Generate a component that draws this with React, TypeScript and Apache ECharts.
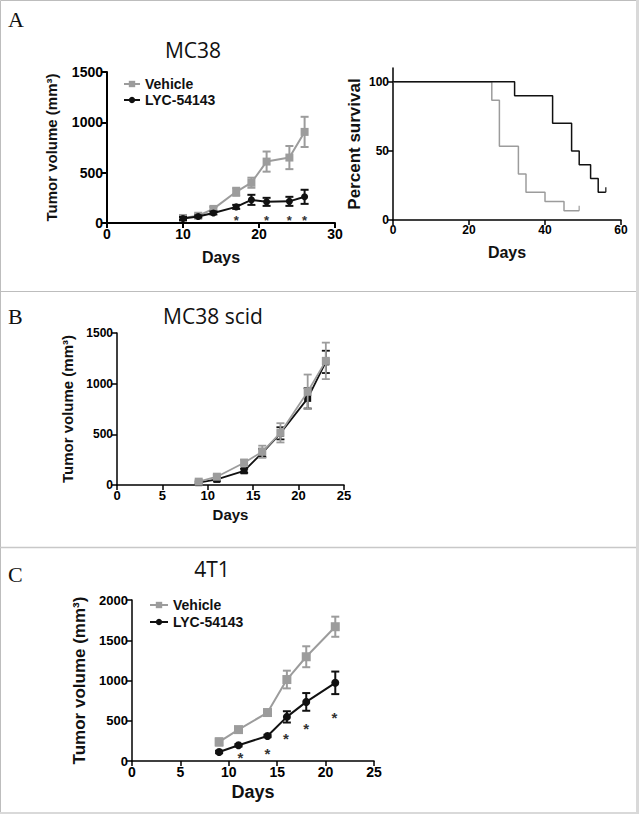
import React, { useEffect, useRef } from 'react';
import * as echarts from 'echarts';

// ---- Panel A (MC38 tumor growth) ----
const mc38Days = [10, 12, 14, 17, 19, 21, 24, 26];
const mc38Vehicle = [50, 72, 140, 310, 400, 610, 650, 905];
const mc38VehicleErr = [15, 15, 20, 40, 50, 100, 115, 150];
const mc38Lyc = [45, 65, 100, 160, 230, 210, 215, 260];
const mc38LycErr = [15, 10, 15, 20, 50, 40, 45, 70];
const mc38StarDays = [17, 21, 24, 26];
const mc38StarLevel = [55, 55, 55, 55];

// ---- Panel A (survival) ----
const survVehicleDays = [0, 26, 28, 33, 35, 40, 45, 49];
const survVehicle = [100, 86.7, 53.3, 33.3, 20, 13.3, 6.7, 6.7];
const survLycDays = [0, 32, 42, 47, 49, 52, 54, 56];
const survLyc = [100, 90, 70, 50, 40, 30, 20, 20];

// ---- Panel B (MC38 scid) ----
const scidDays = [9, 11, 14, 16, 18, 21, 23];
const scidVehicle = [33, 82, 220, 328, 515, 920, 1225];
const scidVehicleErr = [15, 20, 30, 60, 95, 170, 180];
const scidLyc = [23, 55, 140, 318, 510, 855, 1215];
const scidLycErr = [10, 15, 20, 40, 60, 100, 110];

// ---- Panel C (4T1) ----
const t1Days = [9, 11, 14, 16, 18, 21];
const t1Vehicle = [237, 390, 602, 1012, 1295, 1668];
const t1VehicleErr = [45, 20, 30, 110, 130, 125];
const t1Lyc = [112, 195, 311, 548, 734, 971];
const t1LycErr = [15, 15, 15, 70, 110, 140];
const t1StarDays = [11.2, 14, 15.9, 18, 20.9];
const t1StarLevel = [79, 133, 320, 444, 580];

const GRAY = '#9c9c9c';
const BLACK = '#111111';
const SANS = '"Liberation Sans", Arial, sans-serif';
const TITLE_FONT = '"Open Sans", "Noto Sans", sans-serif';

const zip = (xs: number[], ys: number[]) => xs.map((x, i) => [x, ys[i]]);
const zip3 = (xs: number[], ys: number[], es: number[]) => xs.map((x, i) => [x, ys[i], es[i]]);
const plain = (v: number) => String(v);

function errSeries(gridIdx: number, xs: number[], ys: number[], es: number[], color: string, cap: number, lw: number, z = 3) {
  return {
    type: 'custom',
    xAxisIndex: gridIdx,
    yAxisIndex: gridIdx,
    z,
    silent: true,
    data: zip3(xs, ys, es),
    renderItem: (_p: any, api: any) => {
      const x = api.value(0);
      const y = api.value(1);
      const e = api.value(2);
      const t = api.coord([x, y + e]);
      const b = api.coord([x, Math.max(0, y - e)]);
      const st = { stroke: color, lineWidth: lw };
      return {
        type: 'group',
        children: [
          { type: 'line', shape: { x1: t[0], y1: t[1], x2: b[0], y2: b[1] }, style: st },
          { type: 'line', shape: { x1: t[0] - cap, y1: t[1], x2: t[0] + cap, y2: t[1] }, style: st },
          { type: 'line', shape: { x1: b[0] - cap, y1: b[1], x2: b[0] + cap, y2: b[1] }, style: st },
        ],
      };
    },
  };
}

function starSeries(gridIdx: number, xs: number[], ys: number[], size: number) {
  return {
    type: 'custom',
    xAxisIndex: gridIdx,
    yAxisIndex: gridIdx,
    silent: true,
    data: zip(xs, ys),
    renderItem: (_p: any, api: any) => {
      const c = api.coord([api.value(0), api.value(1)]);
      return {
        type: 'text',
        x: c[0],
        y: c[1] + size * 0.22,
        style: {
          text: '*',
          fill: '#333',
          font: `bold ${size}px ${SANS}`,
          textAlign: 'center',
          textVerticalAlign: 'middle',
        },
      };
    },
  };
}

function lineSeries(name: string, gridIdx: number, xs: number[], ys: number[], color: string, symbol: string, size: number, lw: number, z = 4) {
  return {
    type: 'line',
    name,
    xAxisIndex: gridIdx,
    yAxisIndex: gridIdx,
    z,
    data: zip(xs, ys),
    symbol,
    symbolSize: size,
    showSymbol: true,
    itemStyle: { color },
    lineStyle: { color, width: lw },
  };
}

function xAx(gridIdx: number, max: number, interval: number, fs: number, nameFs: number, nameGap: number, lw: number) {
  return {
    type: 'value',
    gridIndex: gridIdx,
    min: 0,
    max,
    interval,
    axisLine: { show: true, onZero: false, lineStyle: { color: '#000', width: lw } },
    axisTick: { show: true, length: 5, lineStyle: { color: '#000', width: lw } },
    splitLine: { show: false },
    axisLabel: { color: '#000', fontWeight: 'bold', fontSize: fs, fontFamily: SANS, margin: 4, formatter: plain },
    name: 'Days',
    nameLocation: 'middle',
    nameGap,
    nameTextStyle: { color: '#111', fontWeight: 'bold', fontSize: nameFs, fontFamily: SANS },
  };
}

function yAx(gridIdx: number, max: number, interval: number, fs: number, name: string, nameFs: number, nameGap: number, lw: number, extra: any = {}) {
  return {
    type: 'value',
    gridIndex: gridIdx,
    min: 0,
    max,
    interval,
    axisLine: { show: true, lineStyle: { color: '#000', width: lw } },
    axisTick: { show: true, length: 5, lineStyle: { color: '#000', width: lw }, ...(extra.tick || {}) },
    splitLine: { show: false },
    axisLabel: { color: '#000', fontWeight: 'bold', fontSize: fs, fontFamily: SANS, margin: 4, formatter: plain, ...(extra.label || {}) },
    name,
    nameLocation: 'middle',
    nameRotate: 90,
    nameGap,
    nameTextStyle: { color: '#111', fontWeight: 'bold', fontSize: nameFs, fontFamily: SANS },
  };
}

const option: any = {
  animation: false,
  backgroundColor: '#ffffff',
  grid: [
    { left: 107, top: 72, width: 228, height: 151 },
    { left: 393, top: 68, width: 228, height: 152 },
    { left: 117, top: 333, width: 227, height: 152 },
    { left: 132, top: 600, width: 242, height: 161 },
  ],
  xAxis: [
    xAx(0, 30, 10, 14, 16, 26, 2),
    xAx(1, 60, 20, 12, 16, 24, 1.5),
    xAx(2, 25, 5, 13, 15, 22, 1.5),
    xAx(3, 25, 5, 14, 18, 22, 1.5),
  ],
  yAxis: [
    yAx(0, 1500, 500, 14, 'Tumor volume (mm³)', 15, 48, 2),
    yAx(1, 110, 10, 12, 'Percent survival', 17, 30, 1.5, {
      tick: { customValues: [0, 50, 100] },
      label: { customValues: [0, 50, 100] },
    }),
    yAx(2, 1500, 500, 12, 'Tumor volume (mm³)', 15, 42, 1.5),
    yAx(3, 2000, 500, 13, 'Tumor volume (mm³)', 17, 44, 1.5),
  ],
  legend: [
    {
      orient: 'vertical',
      left: 118,
      top: 72,
      itemGap: 2,
      itemWidth: 16,
      itemHeight: 8,
      data: ['Vehicle', 'LYC-54143'],
      textStyle: { color: '#111', fontWeight: 'bold', fontSize: 14, fontFamily: SANS },
      selectedMode: false,
    },
    {
      orient: 'vertical',
      left: 144,
      top: 593,
      itemGap: 3,
      itemWidth: 18,
      itemHeight: 8,
      data: ['Vehicle', 'LYC-54143'],
      textStyle: { color: '#111', fontWeight: 'bold', fontSize: 14, fontFamily: SANS },
      selectedMode: false,
    },
  ],
  graphic: [
    { type: 'rect', shape: { x: 0.5, y: 0.5, width: 636, height: 812 }, style: { fill: 'none', stroke: '#bdbdbd', lineWidth: 1 }, silent: true },
    { type: 'rect', shape: { x: 636, y: 0, width: 3, height: 814 }, style: { fill: '#d9d9d9' }, silent: true },
    { type: 'rect', shape: { x: 0, y: 812, width: 639, height: 2 }, style: { fill: '#d9d9d9' }, silent: true },
    { type: 'line', shape: { x1: 0, y1: 291.5, x2: 636, y2: 291.5 }, style: { stroke: '#bdbdbd', lineWidth: 1 }, silent: true },
    { type: 'line', shape: { x1: 0, y1: 547.5, x2: 636, y2: 547.5 }, style: { stroke: '#c8c8c8', lineWidth: 1.5 }, silent: true },
    { type: 'text', x: 8, y: 8, style: { text: 'A', font: '22px "Liberation Serif", serif', fill: '#111' } },
    { type: 'text', x: 8, y: 305, style: { text: 'B', font: '22px "Liberation Serif", serif', fill: '#111' } },
    { type: 'text', x: 8, y: 563, style: { text: 'C', font: '22px "Liberation Serif", serif', fill: '#111' } },
    { type: 'text', x: 193, y: 50, style: { text: 'MC38', font: `21px ${TITLE_FONT}`, fill: '#111', textAlign: 'center', textVerticalAlign: 'middle' } },
    { type: 'text', x: 213, y: 316, style: { text: 'MC38 scid', font: `21px ${TITLE_FONT}`, fill: '#111', textAlign: 'center', textVerticalAlign: 'middle' } },
    { type: 'text', x: 212, y: 569, style: { text: '4T1', font: `21px ${TITLE_FONT}`, fill: '#111', textAlign: 'center', textVerticalAlign: 'middle' } },
  ],
  series: [
    // Panel A left
    errSeries(0, mc38Days, mc38Vehicle, mc38VehicleErr, GRAY, 4, 2),
    lineSeries('Vehicle', 0, mc38Days, mc38Vehicle, GRAY, 'rect', 8, 2),
    errSeries(0, mc38Days, mc38Lyc, mc38LycErr, BLACK, 4, 2, 5),
    lineSeries('LYC-54143', 0, mc38Days, mc38Lyc, BLACK, 'circle', 7, 2, 6),
    starSeries(0, mc38StarDays, mc38StarLevel, 13),
    // Survival
    {
      type: 'line', name: 'surv-vehicle', xAxisIndex: 1, yAxisIndex: 1, step: 'end', symbol: 'none',
      data: zip(survVehicleDays, survVehicle), lineStyle: { color: GRAY, width: 1.5 }, itemStyle: { color: GRAY },
    },
    {
      type: 'line', name: 'surv-lyc', xAxisIndex: 1, yAxisIndex: 1, step: 'end', symbol: 'none',
      data: zip(survLycDays, survLyc), lineStyle: { color: BLACK, width: 1.5 }, itemStyle: { color: BLACK },
    },
    {
      type: 'scatter', name: 'censor-vehicle', xAxisIndex: 1, yAxisIndex: 1, silent: true,
      data: [[survVehicleDays[survVehicleDays.length - 1], survVehicle[survVehicle.length - 1]]],
      symbol: 'rect', symbolSize: [1.5, 5], symbolOffset: [0, -2.5], itemStyle: { color: GRAY },
    },
    {
      type: 'scatter', name: 'censor-lyc', xAxisIndex: 1, yAxisIndex: 1, silent: true,
      data: [[survLycDays[survLycDays.length - 1], survLyc[survLyc.length - 1]]],
      symbol: 'rect', symbolSize: [1.5, 5], symbolOffset: [0, -2.5], itemStyle: { color: BLACK },
    },
    // Panel B
    errSeries(2, scidDays, scidLyc, scidLycErr, BLACK, 4, 1.8, 3),
    lineSeries('scid-lyc', 2, scidDays, scidLyc, BLACK, 'rect', 7, 1.8, 4),
    errSeries(2, scidDays, scidVehicle, scidVehicleErr, GRAY, 4, 1.8, 5),
    lineSeries('scid-vehicle', 2, scidDays, scidVehicle, GRAY, 'rect', 8, 1.8, 6),
    // Panel C
    errSeries(3, t1Days, t1Vehicle, t1VehicleErr, GRAY, 4, 2),
    lineSeries('Vehicle', 3, t1Days, t1Vehicle, GRAY, 'rect', 9, 2),
    errSeries(3, t1Days, t1Lyc, t1LycErr, BLACK, 4, 2, 5),
    lineSeries('LYC-54143', 3, t1Days, t1Lyc, BLACK, 'circle', 8, 2, 6),
    starSeries(3, t1StarDays, t1StarLevel, 15),
  ],
};

export default function App() {
  const ref = useRef<HTMLDivElement>(null);
  useEffect(() => {
    document.body.style.margin = '0';
    const chart = echarts.init(ref.current as HTMLDivElement, null, { renderer: 'svg' });
    chart.setOption(option);
    return () => chart.dispose();
  }, []);
  return <div ref={ref} style={{ width: 639, height: 814, background: '#fff' }} />;
}
